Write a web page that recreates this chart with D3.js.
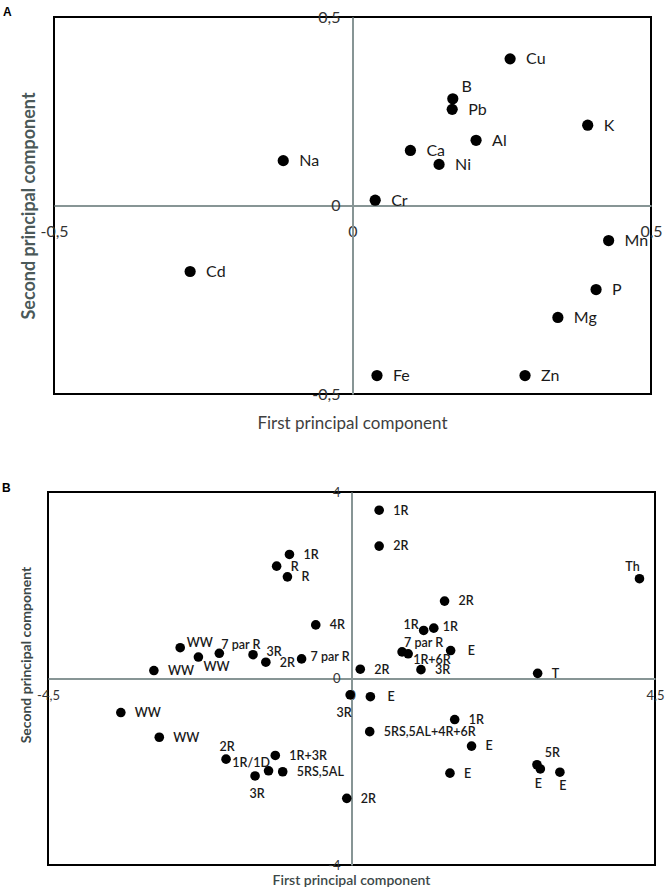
<!DOCTYPE html>
<html>
<head>
<meta charset="utf-8">
<script src="https://cdn.jsdelivr.net/npm/d3@7"></script>
<style>
  html, body { margin: 0; padding: 0; background: #fff; }
  svg { display: block; }
  text { font-family: Lato, "Open Sans", sans-serif; }
</style>
</head>
<body>
<svg id="chart" width="666" height="888"></svg>
<script>
// ---------- Panel A data (loadings) ----------
const elements = ["Cu", "B", "Pb", "K", "Al", "Ca", "Ni", "Na", "Cr", "Mn", "Cd", "P", "Mg", "Fe", "Zn"];
const pc1A = [0.264, 0.168, 0.167, 0.394, 0.207, 0.097, 0.145, -0.116, 0.038, 0.429, -0.272, 0.408, 0.344, 0.041, 0.289];
const pc2A = [0.389, 0.283, 0.255, 0.213, 0.173, 0.146, 0.109, 0.119, 0.014, -0.093, -0.175, -0.223, -0.297, -0.451, -0.451];
const placeA = ["r", "ur", "r", "r", "r", "r", "r", "r", "r", "r", "r", "r", "r", "r", "r"];
const ticksA = [-0.5, 0, 0.5];

// ---------- Panel B data (scores) ----------
const samples = ["1R", "R", "R", "4R", "WW", "WW", "7 par R", "3R", "2R", "7 par R", "WW",
  "1R", "2R", "Th", "2R", "1R", "1R", "7 par R", "1R+6R", "E", "2R", "3R", "T",
  "WW", "WW", "2R", "1R+3R", "1R/1D", "3R", "5RS,5AL",
  "3R", "E", "1R", "5RS,5AL+4R+6R", "E", "E", "5R", "E", "E", "2R"];
const pc1B = [-0.92, -1.11, -0.95, -0.53, -2.54, -2.27, -1.96, -1.46, -1.27, -0.74, -2.93,
  0.41, 0.41, 4.27, 1.38, 1.07, 1.22, 0.75, 0.84, 1.47, 0.13, 1.03, 2.76,
  -3.42, -2.85, -1.86, -1.13, -1.23, -1.43, -1.02,
  -0.02, 0.28, 1.53, 0.27, 1.78, 1.46, 2.75, 2.80, 3.09, -0.07];
const pc2B = [2.66, 2.41, 2.18, 1.15, 0.66, 0.46, 0.54, 0.51, 0.35, 0.42, 0.17,
  3.61, 2.84, 2.14, 1.66, 1.03, 1.08, 0.57, 0.53, 0.60, 0.20, 0.19, 0.11,
  -0.73, -1.26, -1.73, -1.65, -1.98, -2.09, -2.00,
  -0.35, -0.39, -0.88, -1.14, -1.45, -2.03, -1.85, -1.94, -2.01, -2.57];
const placeB = ["r", "r", "r", "r", "wwu", "wwd", "pu", "r3", "r", "rc", "r",
  "r", "r", "th", "r", "ul", "rc", "pu", "pd", "re", "r", "r", "r",
  "r", "r", "u", "r", "ld", "d", "r",
  "dl", "re", "r", "r", "r", "r", "ur", "dE", "dE2", "r"];
const ticksBx = [-4.5, 0, 4.5];
const ticksBy = [-4, 0, 4];

// ---------- Drawing ----------
const svg = d3.select("#chart");
const fmt = d => String(d).replace(".", ",");
const AXIS_GREY = "#879595";

// label offset table for placement codes: [dx, dy, anchor]
function offsets(code, base) {
  const t = {
    r: [base, 0, "start"],
    ur: [base * 0.55, -12, "start"],
    wwu: [6.5, -5, "start"],
    wwd: [5, 10, "start"],
    pu: [2, -9, "start"],
    pd: [5, 6, "start"],
    r3: [13.5, -3, "start"],
    rc: [9, -2, "start"],
    re: [17, 0, "start"],
    th: [-7, -12, "middle"],
    ul: [-5, -6, "end"],
    u: [1, -13, "middle"],
    ld: [1.5, -8, "end"],
    d: [2, 17.5, "middle"],
    dl: [-6, 18, "middle"],
    dE: [-2, 14.5, "middle"],
    dE2: [3, 13, "middle"]
  };
  return t[code] || t.r;
}

function drawPanel(cfg) {
  const g = svg.append("g");
  const x = d3.scaleLinear().domain(cfg.xDomain).range([cfg.left, cfg.right]);
  const y = d3.scaleLinear().domain(cfg.yDomain).range([cfg.bottom, cfg.top]);

  // box
  g.append("rect")
    .attr("x", cfg.left).attr("y", cfg.top)
    .attr("width", cfg.right - cfg.left).attr("height", cfg.bottom - cfg.top)
    .attr("fill", "none").attr("stroke", "#000").attr("stroke-width", 2);

  // x axis through y = 0
  const xa = g.append("g")
    .attr("transform", `translate(0,${y(0)})`)
    .call(d3.axisBottom(x).tickValues(cfg.xTicks).tickFormat(fmt)
      .tickSizeInner(0).tickSizeOuter(0).tickPadding(cfg.xPad));
  // y axis through x = 0
  const ya = g.append("g")
    .attr("transform", `translate(${x(0)},0)`)
    .call(d3.axisLeft(y).tickValues(cfg.yTicks).tickFormat(fmt)
      .tickSizeInner(0).tickSizeOuter(0).tickPadding(cfg.yPad));
  [xa, ya].forEach(a => {
    a.select(".domain").attr("stroke", AXIS_GREY).attr("stroke-width", 2);
    a.selectAll("text")
      .attr("fill", "#333")
      .style("font-family", "Lato, 'Open Sans', sans-serif")
      .style("font-size", cfg.tickSize + "px");
  });

  // points
  const pts = cfg.names.map((n, i) => ({ n, x: cfg.xs[i], y: cfg.ys[i], p: cfg.place[i] }));
  g.selectAll("circle.pt").data(pts).join("circle")
    .attr("class", "pt")
    .attr("cx", d => x(d.x)).attr("cy", d => y(d.y))
    .attr("r", cfg.r).attr("fill", "#000");

  g.selectAll("text.lbl").data(pts).join("text")
    .attr("class", "lbl")
    .each(function (d) {
      const [dx, dy, anchor] = offsets(d.p, cfg.labelDx);
      d3.select(this)
        .attr("x", x(d.x) + dx).attr("y", y(d.y) + dy)
        .attr("dy", "0.35em").attr("text-anchor", anchor);
    })
    .attr("fill", "#1a1a1a")
    .style("font-size", cfg.labelSize + "px")
    .style("font-weight", cfg.labelWeight)
    .text(d => d.n);

  // axis titles
  g.append("text")
    .attr("x", (cfg.left + cfg.right) / 2 + cfg.xTitleDx).attr("y", cfg.xTitleY)
    .attr("text-anchor", "middle")
    .attr("fill", cfg.xTitleColor)
    .style("font-size", cfg.xTitleSize + "px")
    .style("font-weight", cfg.xTitleWeight)
    .text("First principal component");
  g.append("text")
    .attr("transform", `translate(${cfg.yTitleX},${cfg.yTitleY}) rotate(-90)`)
    .attr("text-anchor", "middle")
    .attr("fill", cfg.yTitleColor)
    .style("font-size", cfg.yTitleSize + "px")
    .style("font-weight", "bold")
    .text("Second principal component");

  // panel letter
  g.append("text")
    .attr("x", cfg.letterX).attr("y", cfg.letterY)
    .attr("fill", "#000")
    .style("font-family", "Arial, 'Liberation Sans', sans-serif")
    .style("font-size", "12px").style("font-weight", "bold")
    .text(cfg.letter);
}

drawPanel({
  letter: "A", letterX: 3, letterY: 16,
  left: 54, right: 651, top: 17, bottom: 394,
  xDomain: [-0.5, 0.5], yDomain: [-0.5, 0.5],
  xTicks: ticksA, yTicks: ticksA, xPad: 20, yPad: 12, tickSize: 16,
  names: elements, xs: pc1A, ys: pc2A, place: placeA,
  r: 5.6, labelDx: 16, labelSize: 16, labelWeight: "normal",
  xTitleDx: 0, xTitleY: 429, xTitleSize: 17, xTitleWeight: "normal", xTitleColor: "#3f3f3f",
  yTitleX: 35, yTitleY: 206, yTitleSize: 18, yTitleColor: "#4b5959"
});

drawPanel({
  letter: "B", letterX: 2, letterY: 492,
  left: 48, right: 655, top: 492, bottom: 865,
  xDomain: [-4.5, 4.5], yDomain: [-4, 4],
  xTicks: ticksBx, yTicks: ticksBy, xPad: 12, yPad: 11, tickSize: 13,
  names: samples, xs: pc1B, ys: pc2B, place: placeB,
  r: 4.8, labelDx: 14, labelSize: 12.5, labelWeight: 600,
  xTitleDx: 0, xTitleY: 885, xTitleSize: 14, xTitleWeight: 600, xTitleColor: "#3c4848",
  yTitleX: 31, yTitleY: 655, yTitleSize: 14, yTitleColor: "#3c4848"
});
</script>
</body>
</html>
